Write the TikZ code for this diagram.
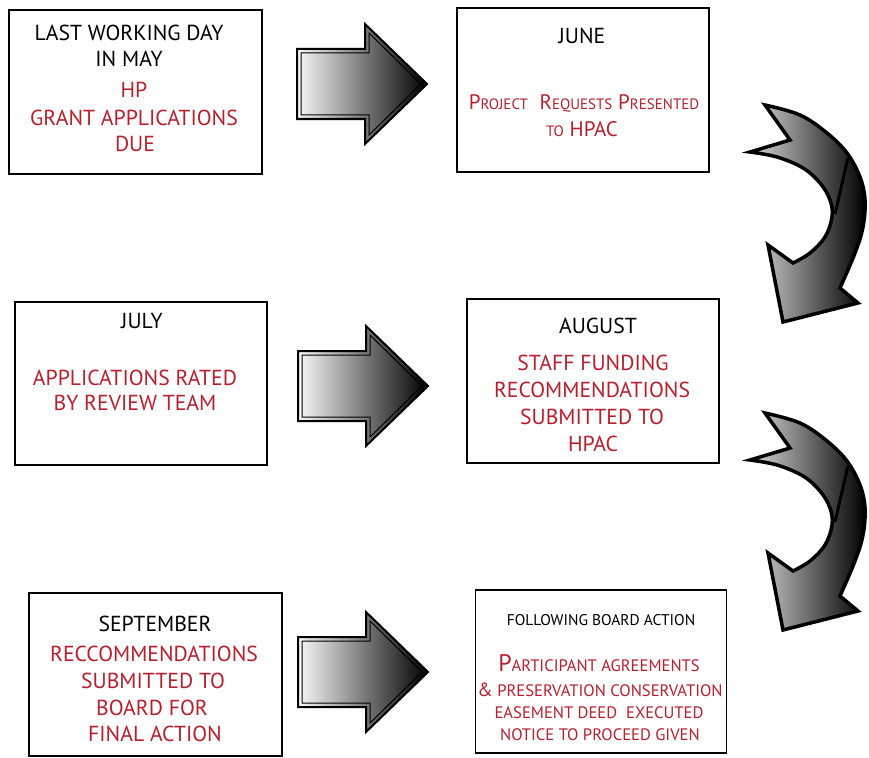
\documentclass[tikz,border=0pt]{standalone}
\usepackage{fontspec}
\setmainfont{PT Sans}
\definecolor{hpred}{RGB}{181,32,46}
\newcommand\fs[1]{\fontsize{#1}{#1}\selectfont}
\newcommand\bsc[2]{{\fs{21}#1}{\fs{15}#2}}
\begin{document}
\begin{tikzpicture}[x=1pt,y=-1pt,
  box/.style={draw=black,line width=1.5pt,rectangle,inner sep=0pt,minimum width=#1},
  tl/.style={anchor=base,inner sep=0pt,font=\fs{21.7}},
  rl/.style={tl,text=hpred},
  rarrow/.pic={
    \path[draw=black,line width=2pt,line join=miter,left color=gray!5,right color=black]
      (0,-35) -- (68,-35) -- (68,-60) -- (130,0) -- (68,60) -- (68,35) -- (0,35) -- cycle;
    \draw[black,line width=1pt,line join=miter]
      (4,-31) -- (72,-31) -- (72,-51) -- (124,0) -- (72,51) -- (72,31) -- (4,31) -- cycle;
  },
  carrow/.pic={
    \path[draw=black,line width=3.5pt,line join=miter,left color=gray!30,right color=black]
      (765,105) -- (790,140) -- (750,152)
      -- plot[smooth,tension=0.6] coordinates {(750,152) (777,157) (803,168) (820,183) (830,200) (832,217) (825,237) (810,253) (793,263)}
      -- (768,245) -- (783,322) -- (858,303) -- (840,288)
      -- plot[smooth,tension=0.6] coordinates {(840,288) (855,253) (863,227) (865,200) (860,177) (847,153) (827,133) (800,115) (765,105)}
      -- cycle;
    \draw[black,line width=3pt] (848,158) -- (835,214);
  }]
\useasboundingbox (0,0) rectangle (869,757);
\fill[white] (0,0) rectangle (869,757);

% boxes
\node[box=253pt,minimum height=164pt] (may) at (135.5,92) {};
\node[box=252pt,minimum height=164pt] (june) at (583,90) {};
\node[box=252pt,minimum height=163pt] (july) at (141,383.5) {};
\node[box=252pt,minimum height=164pt] (aug) at (593,381) {};
\node[box=253pt,minimum height=163pt] (sep) at (155.5,674.5) {};
\node[box=251pt,minimum height=163pt] (fol) at (601,671.5) {};

% box 1
\node[tl] (may1) at (129,40.5) {LAST WORKING DAY};
\node[tl] (may2) at (129,67) {IN MAY};
\node[rl] (may3) at (134,98) {HP};
\node[rl] (may4) at (134,125) {GRANT APPLICATIONS};
\node[rl] (may5) at (135,151.7) {DUE};

% box 2
\node[tl] (june1) at (582,43.5) {JUNE};
\node[rl] (june2) at (584,110) {\bsc{P}{ROJECT}\ \ \bsc{R}{EQUESTS} \bsc{P}{RESENTED}};
\node[rl] (june3) at (582,136) {{\fs{15}TO} {\fs{21}HPAC}};

% box 3
\node[tl] (july1) at (142,328) {JULY};
\node[rl] (july2) at (135,385) {APPLICATIONS RATED};
\node[rl] (july3) at (135,410.7) {BY REVIEW TEAM};

% box 4
\node[tl] (aug1) at (598,333.5) {AUGUST};
\node[rl] (aug2) at (593,370.5) {STAFF FUNDING};
\node[rl] (aug3) at (592,397.5) {RECOMMENDATIONS};
\node[rl] (aug4) at (592,424.5) {SUBMITTED TO};
\node[rl] (aug5) at (593,451.5) {HPAC};

% box 5
\node[tl] (sep1) at (155,631.7) {SEPTEMBER};
\node[rl] (sep2) at (154,661.7) {RECCOMMENDATIONS};
\node[rl] (sep3) at (153,688.3) {SUBMITTED TO};
\node[rl] (sep4) at (152,715) {BOARD FOR};
\node[rl] (sep5) at (155,741.7) {FINAL ACTION};

% box 6
\node[tl,font=\fs{15.5}] (fol1) at (601,625) {FOLLOWING BOARD ACTION};
\node[rl,font=\fs{16.6}] (fol2) at (599,671.7) {{\fs{24}P}ARTICIPANT AGREEMENTS};
\node[rl,font=\fs{16.6}] (fol3) at (600,696.7) {{\fs{19}\&} PRESERVATION CONSERVATION};
\node[rl,font=\fs{16.6}] (fol4) at (599,718.3) {EASEMENT DEED\ \ EXECUTED};
\node[rl,font=\fs{16.6}] (fol5) at (600,740) {NOTICE TO PROCEED GIVEN};

% straight arrows
\pic at (297,84) {rarrow};
\pic at (298,386) {rarrow};
\pic at (298,672) {rarrow};

% curved arrows
\pic at (0,0) {carrow};
\pic at (0,308) {carrow};
\end{tikzpicture}
\end{document}
